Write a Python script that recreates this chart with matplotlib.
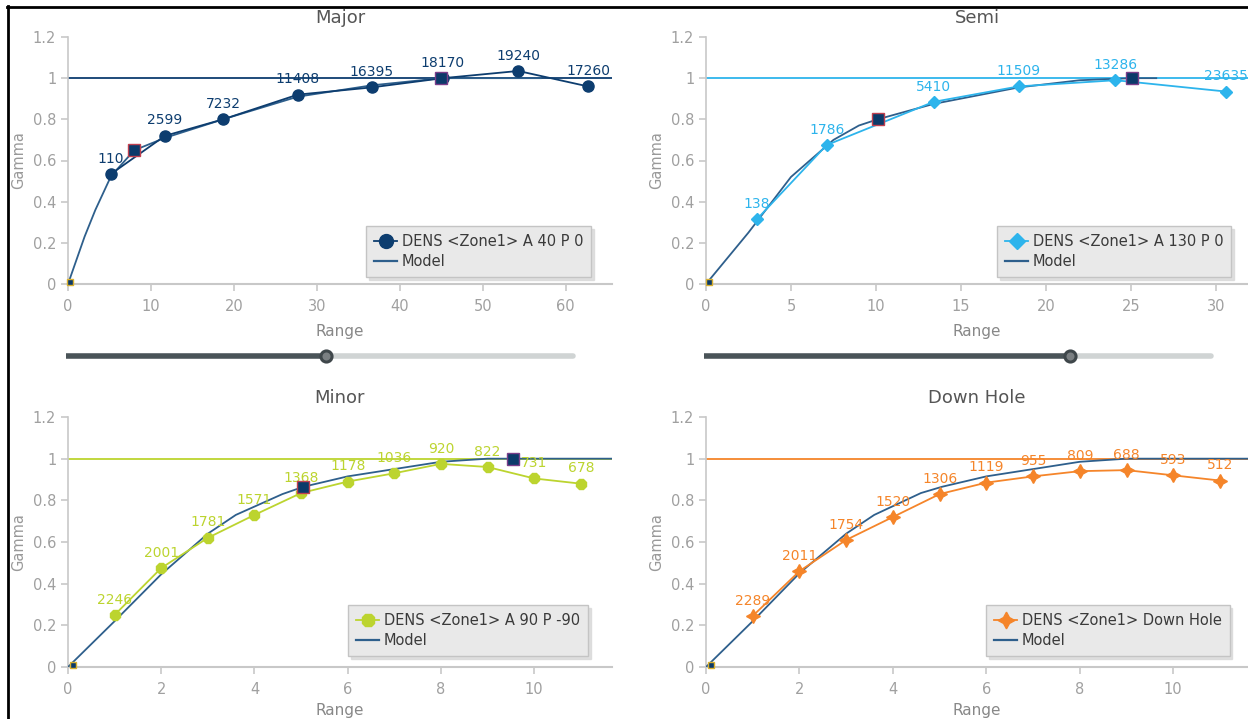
import matplotlib.pyplot as plt
from matplotlib.lines import Line2D

W, H = 1248, 719

# ---- data ----
major_x = [5.2, 11.7, 18.7, 27.7, 36.6, 45.2, 54.3, 62.7]
major_y = [0.535, 0.72, 0.80, 0.92, 0.955, 1.0, 1.035, 0.96]
major_n = [110, 2599, 7232, 11408, 16395, 18170, 19240, 17260]
major_model_x = [0, 2.0, 3.3, 5.2, 8.0, 11.7, 18.7, 27.7, 36.6, 45.0, 57.0]
major_model_y = [0, 0.23, 0.36, 0.525, 0.65, 0.71, 0.80, 0.91, 0.965, 1.0, 1.0]
major_nodes_x = [0.3, 8.0, 45.0]
major_nodes_y = [0.01, 0.65, 1.0]

semi_x = [3.0, 7.1, 13.4, 18.4, 24.1, 30.6]
semi_y = [0.315, 0.675, 0.885, 0.96, 0.99, 0.935]
semi_n = [138, 1786, 5410, 11509, 13286, 23635]
semi_model_x = [0, 2.5, 5.0, 7.5, 9.0, 10.1, 13.4, 18.4, 22.0, 25.1, 26.5]
semi_model_y = [0, 0.25, 0.52, 0.70, 0.77, 0.80, 0.875, 0.955, 0.99, 1.0, 1.0]
semi_nodes_x = [0.2, 10.1, 25.1]
semi_nodes_y = [0.01, 0.80, 1.0]

minor_x = [1, 2, 3, 4, 5, 6, 7, 8, 9, 10, 11]
minor_y = [0.25, 0.475, 0.62, 0.73, 0.835, 0.89, 0.93, 0.975, 0.96, 0.905, 0.88]
minor_n = [2246, 2001, 1781, 1571, 1368, 1178, 1036, 920, 822, 731, 678]
minor_model_x = [0, 1, 2, 3, 3.6, 4.6, 5.05, 6, 7, 8, 9, 9.55, 11.7]
minor_model_y = [0, 0.22, 0.445, 0.64, 0.73, 0.83, 0.865, 0.915, 0.95, 0.985, 1.0, 1.0, 1.0]
minor_nodes_x = [0.1, 5.05, 9.55]
minor_nodes_y = [0.01, 0.865, 1.0]

down_x = [1, 2, 3, 4, 5, 6, 7, 8, 9, 10, 11]
down_y = [0.245, 0.46, 0.61, 0.72, 0.83, 0.885, 0.915, 0.94, 0.945, 0.92, 0.895]
down_n = [2289, 2011, 1754, 1520, 1306, 1119, 955, 809, 688, 593, 512]
down_model_x = [0, 1, 2, 3, 3.6, 4.6, 5.05, 6, 7, 8, 9, 11.7]
down_model_y = [0, 0.22, 0.45, 0.64, 0.73, 0.835, 0.865, 0.915, 0.95, 0.985, 1.0, 1.0]
down_nodes_x = [0.1]
down_nodes_y = [0.01]

model_color = '#2e5f8c'
node_color = '#0b3a6a'
grey_txt = '#a0a0a0'
axis_grey = '#c8c8c8'


def px_rect(left, top, right, bottom):
    return [left / W, 1 - bottom / H, (right - left) / W, (bottom - top) / H]


fig = plt.figure(figsize=(W / 100, H / 100), dpi=100)
fig.patch.set_facecolor('white')


def panel(rect, title, xmax, xticks, xs, ys, ns, mx, my, nx, ny,
          color, marker, msize, legend_label, legend_rect, xlab_px):
    ax = fig.add_axes(px_rect(*rect))
    w_px = rect[2] - rect[0]
    h_px = rect[3] - rect[1]
    ax.set_xlim(0, xmax)
    ax.set_ylim(0, 1.2)
    ax.set_facecolor('none')
    for s in ['top', 'right']:
        ax.spines[s].set_visible(False)
    ax.spines['left'].set_color(axis_grey)
    ax.spines['bottom'].set_color(axis_grey)
    ax.spines['left'].set_linewidth(1.2)
    ax.spines['bottom'].set_linewidth(1.5)
    ax.set_xticks(xticks)
    ax.set_yticks([0, 0.2, 0.4, 0.6, 0.8, 1.0, 1.2])
    ax.set_yticklabels(['0', '0.2', '0.4', '0.6', '0.8', '1', '1.2'])
    ax.tick_params(colors=axis_grey, labelcolor=grey_txt, labelsize=10.5,
                   length=5, width=1.2)
    ax.tick_params(axis='x', pad=6)
    ax.set_xlabel('Range', color='#888888', fontsize=11)
    ax.xaxis.set_label_coords(0.5, -xlab_px / h_px)
    ax.set_ylabel('Gamma', color='#999999', fontsize=10.5)
    ax.yaxis.set_label_coords(-42 / w_px, 0.5)
    ax.set_title(title, color='#555555', fontsize=13, pad=10)

    # sill
    ax.axhline(1.0, color=color, lw=1.3, zorder=1)
    # model
    ax.plot(mx, my, color=model_color, lw=1.3, zorder=3)
    # experimental
    ax.plot(xs, ys, color=color, lw=1.3, marker=marker, ms=msize,
            mec=color, mfc=color, zorder=4, clip_on=False)
    for x, y, n in zip(xs, ys, ns):
        ax.annotate(str(n), (x, y), xytext=(0, 6), textcoords='offset points',
                    ha='center', va='bottom', color=color, fontsize=10)
    # model nodes
    edges = ['#d8b030', '#c04050', '#7a3e8a']
    for i, (x, y) in enumerate(zip(nx, ny)):
        ax.plot([x], [y], 's', color=node_color, mec=edges[i],
                ms=8 if i else 5, mew=1, zorder=6, clip_on=False)

    handles = [
        Line2D([], [], color=color, marker=marker, ms=msize + 2, lw=1.3),
        Line2D([], [], color=model_color, lw=1.6),
    ]
    leg = fig.legend(handles, [legend_label, 'Model'], loc='upper left',
                     bbox_to_anchor=(legend_rect[0] / W, 1 - legend_rect[1] / H),
                     frameon=True, fancybox=False,
                     shadow={'color': '#d8d8d8', 'alpha': 0.8, 'ox': 2, 'oy': -2},
                     fontsize=10.5,
                     handlelength=1.6, handletextpad=0.3, borderpad=0.55,
                     labelspacing=0.35, borderaxespad=0)
    fr = leg.get_frame()
    fr.set_facecolor('#e9e9e9')
    fr.set_edgecolor('#c4c4c4')
    for t in leg.get_texts():
        t.set_color('#3a3a3a')
    return ax


panel((68, 37, 612, 284), 'Major', 65.6, [0, 10, 20, 30, 40, 50, 60],
      major_x, major_y, major_n, major_model_x, major_model_y,
      major_nodes_x, major_nodes_y, '#0d3d6f', 'o', 8,
      'DENS <Zone1> A 40 P 0', (366, 226), 40)
panel((706, 37, 1248, 284), 'Semi', 31.9, [0, 5, 10, 15, 20, 25, 30],
      semi_x, semi_y, semi_n, semi_model_x, semi_model_y,
      semi_nodes_x, semi_nodes_y, '#2db4ec', 'D', 6.5,
      'DENS <Zone1> A 130 P 0', (997, 226), 40)
panel((68, 417, 612, 667), 'Minor', 11.67, [0, 2, 4, 6, 8, 10],
      minor_x, minor_y, minor_n, minor_model_x, minor_model_y,
      minor_nodes_x, minor_nodes_y, '#bcd42f', '8', 8,
      'DENS <Zone1> A 90 P -90', (348, 605), 36)
panel((706, 417, 1248, 667), 'Down Hole', 11.6, [0, 2, 4, 6, 8, 10],
      down_x, down_y, down_n, down_model_x, down_model_y,
      down_nodes_x, down_nodes_y, '#f5852a', (4, 1, 0), 10,
      'DENS <Zone1> Down Hole', (986, 605), 36)


# sliders under the top panels
def slider(x0, x1, knob, y):
    fy = 1 - y / H
    fig.add_artist(Line2D([knob / W, x1 / W], [fy, fy], color='#d0d4d4',
                          lw=4, solid_capstyle='round'))
    fig.add_artist(Line2D([x0 / W, knob / W], [fy, fy], color='#4a5458',
                          lw=4, solid_capstyle='butt'))
    fig.add_artist(Line2D([knob / W], [fy], marker='o', ms=8, mfc='#7a7f82',
                          mec='#3f474b', mew=2.2, lw=0))


slider(66, 573, 326, 356)
slider(704, 1211, 1070, 356)

# black frame edges at top and left
fig.add_artist(Line2D([7 / W, 1], [1 - 6.5 / H, 1 - 6.5 / H], color='black', lw=2))
fig.add_artist(Line2D([7.5 / W, 7.5 / W], [0, 1 - 6 / H], color='black', lw=2))

fig.savefig('out.png', dpi=100)
